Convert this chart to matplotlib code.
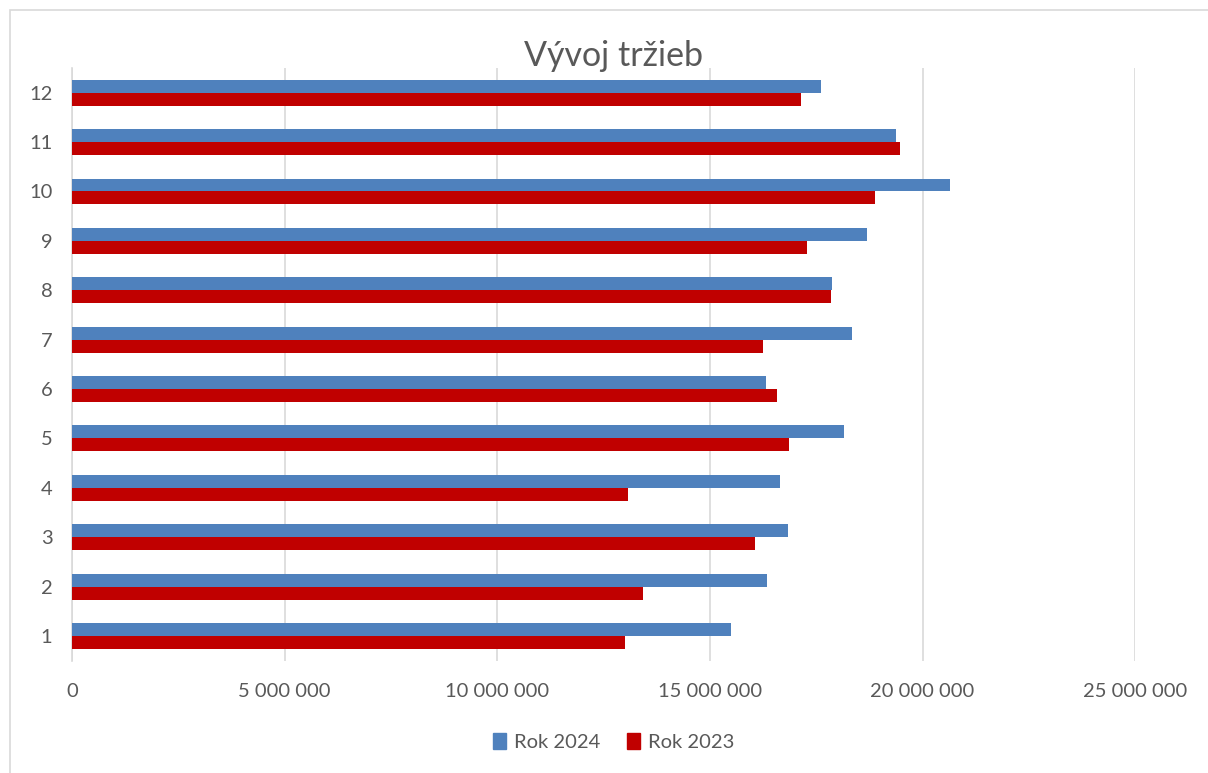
import matplotlib.pyplot as plt
import numpy as np
from matplotlib.patches import Rectangle, Patch

plt.rcParams['font.family'] = ['Lato', 'DejaVu Sans']

# data
months = [1, 2, 3, 4, 5, 6, 7, 8, 9, 10, 11, 12]
rok_2024 = [15500000, 16340000, 16840000, 16660000, 18150000, 16310000,
            18350000, 17870000, 18700000, 20640000, 19380000, 17620000]
rok_2023 = [13010000, 13430000, 16050000, 13070000, 16860000, 16570000,
            16260000, 17840000, 17280000, 18890000, 19470000, 17150000]
x_ticks = [0, 5000000, 10000000, 15000000, 20000000, 25000000]

blue = '#4f81bd'
red = '#c00000'
text_col = '#595959'
grid_col = '#d9d9d9'

fig = plt.figure(figsize=(12.08, 7.73), dpi=100)
ax = fig.add_axes([0.0595, 0.1453, 0.8802, 0.7667])

y = np.array(months)
h = 0.263
ax.barh(y + h / 2, rok_2024, height=h, color=blue, label='Rok 2024', zorder=3)
ax.barh(y - h / 2, rok_2023, height=h, color=red, label='Rok 2023', zorder=3)

ax.set_xlim(0, 25000000)
ax.set_ylim(0.5, 12.5)
ax.set_xticks(x_ticks)
ax.set_xticklabels([f'{v:,}'.replace(',', ' ') for v in x_ticks])
ax.set_yticks(y)
ax.set_yticklabels([str(m) for m in months])
ax.tick_params(axis='both', length=0, labelsize=14.5, colors=text_col)
ax.tick_params(axis='x', pad=16)
ax.tick_params(axis='y', pad=14)

ax.grid(axis='x', color=grid_col, linewidth=1.2, zorder=0)
for side in ['top', 'right', 'bottom']:
    ax.spines[side].set_visible(False)
ax.spines['left'].set_color(grid_col)
ax.spines['left'].set_linewidth(1.2)

fig.text(0.508, 0.927, 'Vývoj tržieb', ha='center', va='center',
         fontsize=24.5, color=text_col)

handles = [Patch(color=blue, label='Rok 2024'), Patch(color=red, label='Rok 2023')]
fig.legend(handles=handles, loc='center', bbox_to_anchor=(0.508, 0.04), ncol=2,
           frameon=False, fontsize=14.5, labelcolor=text_col,
           handlelength=0.65, handleheight=0.85, handletextpad=0.4, columnspacing=1.3)

# chart area border
fig.patches.append(Rectangle((10 / 1208, -0.1), 1.2, 1 - 10 / 773 + 0.1,
                             transform=fig.transFigure, fill=False,
                             edgecolor=grid_col, linewidth=1.2))

fig.savefig('out.png', dpi=100)
